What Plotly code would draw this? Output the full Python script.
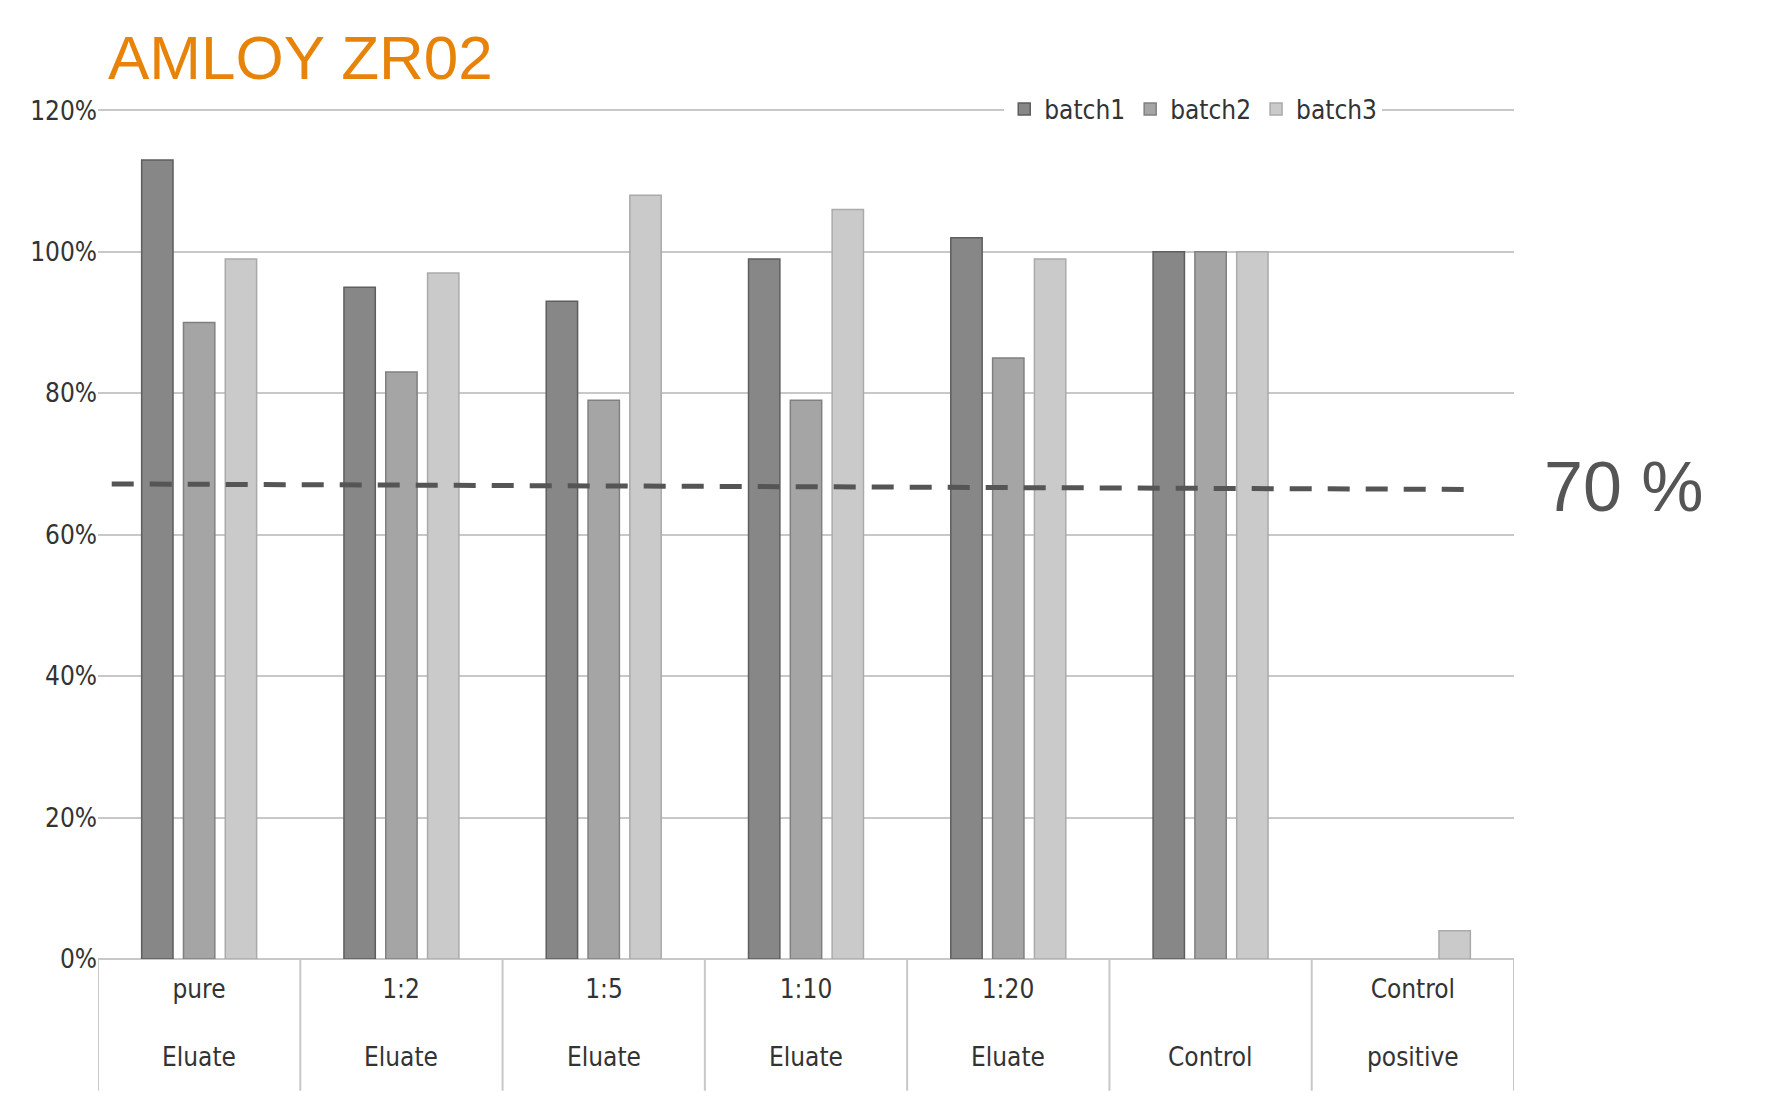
import plotly.graph_objects as go

categories = ["pure<br><br>Eluate", "1:2<br><br>Eluate", "1:5<br><br>Eluate", "1:10<br><br>Eluate",
              "1:20<br><br>Eluate", "&nbsp;<br><br>Control", "Control<br><br>positive"]
batch1 = [1.13, 0.95, 0.93, 0.99, 1.02, 1.00, None]
batch2 = [0.90, 0.83, 0.79, 0.79, 0.85, 1.00, None]
batch3 = [0.99, 0.97, 1.08, 1.06, 0.99, 1.00, 0.04]
threshold_x = [-0.62, 6.3]
threshold_y = [0.672, 0.664]

font = "Liberation Sans Narrow, DejaVu Sans Condensed, Roboto, sans-serif"
xs = list(range(len(categories)))

fig = go.Figure()
for name, vals, col, edge in [("batch1", batch1, "#878787", "#5e5e5e"),
                              ("batch2", batch2, "#a5a5a5", "#808080"),
                              ("batch3", batch3, "#cacaca", "#aaaaaa")]:
    fig.add_trace(go.Bar(x=xs, y=vals, name=name, marker_color=col,
                         marker_line=dict(color=edge, width=1.5)))

fig.add_trace(go.Scatter(x=threshold_x, y=threshold_y, mode="lines", showlegend=False,
                         line=dict(color="#555555", width=5, dash="22px,16px")))

for i, c in enumerate(categories):
    fig.add_annotation(x=i, y=-0.075, xref="x", yref="paper", text=c, showarrow=False,
                       font=dict(family=font, size=26, color="#333333"), yanchor="middle")
for i in range(len(categories) + 1):
    fig.add_shape(type="line", x0=i - 0.5, x1=i - 0.5, xref="x", yref="paper", y0=0, y1=-0.155,
                  line=dict(color="#c8c8c8", width=2))

fig.add_annotation(x=1.02, y=0.555, xref="paper", yref="paper", text="70 %", showarrow=False,
                   xanchor="left", font=dict(family="Liberation Sans, Arial", size=70, color="#555555"))
fig.add_annotation(x=0.006, y=1.06, xref="paper", yref="paper", text="AMLOY ZR02", showarrow=False,
                   xanchor="left", yanchor="middle",
                   font=dict(family="Liberation Sans, Arial", size=62, color="#e8830a"))

fig.update_layout(
    width=1771, height=1106, plot_bgcolor="white", paper_bgcolor="white",
    margin=dict(l=90, r=265, t=101, b=155),
    barmode="group", bargap=0.38, bargroupgap=0.25,
    legend=dict(orientation="h", x=0.64, y=1.0, xanchor="left", yanchor="middle",
                bgcolor="white", font=dict(family=font, size=26, color="#333333"),
                itemwidth=30, traceorder="normal"),
    xaxis=dict(range=[-0.5, 6.5], showticklabels=False, showgrid=False, zeroline=False,
               showline=False),
    yaxis=dict(range=[0, 1.202], dtick=0.2, tickformat=".0%", showgrid=True, gridcolor="#c8c8c8",
               gridwidth=2, zeroline=True, zerolinecolor="#c8c8c8", zerolinewidth=2,
               ticks="", tickfont=dict(family=font, size=26, color="#333333")),
)
fig.write_html("out.html")
